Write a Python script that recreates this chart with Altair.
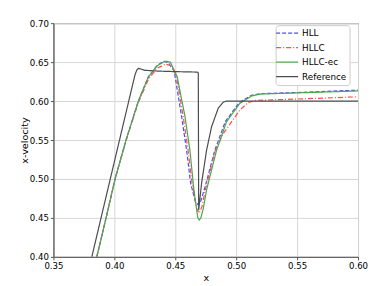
import altair as alt
import pandas as pd

# Reference (exact) solution
ref_x = [0.3815, 0.3965, 0.410, 0.415, 0.417, 0.4185, 0.4197, 0.421, 0.425, 0.435, 0.450, 0.468,
         0.4689, 0.4692, 0.4716, 0.4757, 0.4798, 0.4852, 0.4893, 0.492, 0.600]
ref_y = [0.400, 0.499, 0.588, 0.621, 0.634, 0.640, 0.642, 0.6415, 0.6395, 0.6385, 0.6378, 0.6372,
         0.636, 0.460, 0.4945, 0.537, 0.567, 0.5906, 0.5985, 0.600, 0.600]

# HLL
hll_x = [0.3856, 0.3932, 0.4006, 0.4096, 0.4197, 0.4279, 0.4348, 0.4402, 0.4445, 0.4492, 0.4552,
         0.4593, 0.4626, 0.4665, 0.4689, 0.471, 0.4745, 0.4825, 0.491, 0.5025, 0.5126, 0.520,
         0.550, 0.600]
hll_y = [0.400, 0.450, 0.500, 0.550, 0.600, 0.631, 0.645, 0.6513, 0.649, 0.638, 0.580,
         0.537, 0.4945, 0.471, 0.4667, 0.472, 0.490, 0.537, 0.5735, 0.598, 0.6075, 0.6095,
         0.611, 0.614]

# HLLC
hllc_x = [0.3856, 0.3932, 0.4006, 0.4096, 0.4197, 0.428, 0.435, 0.4421, 0.447, 0.451, 0.4565,
          0.4605, 0.4638, 0.4675, 0.4697, 0.472, 0.4745, 0.4825, 0.4893, 0.503, 0.5098, 0.5167,
          0.530, 0.550, 0.575, 0.600]
hllc_y = [0.400, 0.450, 0.500, 0.549, 0.598, 0.628, 0.642, 0.6474, 0.645, 0.632, 0.580,
          0.537, 0.4945, 0.462, 0.456, 0.465, 0.485, 0.535, 0.558, 0.5885, 0.598, 0.601,
          0.6015, 0.6026, 0.604, 0.6055]

# HLLC-ec
ec_x = [0.3856, 0.3932, 0.4006, 0.4096, 0.4197, 0.4279, 0.4348, 0.4416, 0.446, 0.4516, 0.458,
        0.462, 0.4653, 0.4685, 0.4697, 0.471, 0.473, 0.4757, 0.4839, 0.4921, 0.503, 0.5126,
        0.520, 0.550, 0.600]
ec_y = [0.400, 0.450, 0.500, 0.550, 0.600, 0.631, 0.645, 0.6513, 0.650, 0.631, 0.580,
        0.537, 0.486, 0.450, 0.4474, 0.450, 0.462, 0.486, 0.537, 0.5735, 0.597, 0.6065,
        0.609, 0.6105, 0.613]

series_names = ["HLL", "HLLC", "HLLC-ec", "Reference"]
series_colors = ["#4d4dff", "#ff4d4d", "#4da64d", "#4d4d4d"]
series_dash = [[4, 2], [5, 2, 1, 2], [1, 0], [1, 0]]

rows = []
for name, xs, ys in [("HLL", hll_x, hll_y), ("HLLC", hllc_x, hllc_y),
                     ("HLLC-ec", ec_x, ec_y), ("Reference", ref_x, ref_y)]:
    for i, (a, b) in enumerate(zip(xs, ys)):
        rows.append({"x": a, "y": b, "series": name, "i": i})
df = pd.DataFrame(rows)

x_ticks = [0.35, 0.40, 0.45, 0.50, 0.55, 0.60]
y_ticks = [0.40, 0.45, 0.50, 0.55, 0.60, 0.65, 0.70]

FONT = "DejaVu Sans"
FS = 8.6
LFS = 8.8
TFS = 9.6

chart = alt.Chart(df).mark_line(strokeWidth=1.2, clip=True).encode(
    x=alt.X("x:Q", title="x",
            scale=alt.Scale(domain=[0.35, 0.60], nice=False, zero=False),
            axis=alt.Axis(values=x_ticks, format=".2f")),
    y=alt.Y("y:Q", title="x-velocity",
            scale=alt.Scale(domain=[0.40, 0.70], nice=False, zero=False),
            axis=alt.Axis(values=y_ticks, format=".2f")),
    color=alt.Color("series:N",
                    scale=alt.Scale(domain=series_names, range=series_colors),
                    legend=alt.Legend(title=None, orient="none", legendX=222.5, legendY=2,
                                      fillColor="white", strokeColor="#cccccc",
                                      cornerRadius=3, padding=3, rowPadding=4.5,
                                      symbolType="M-2.75,0L2.75,0", symbolSize=64,
                                      symbolOffset=3.5,
                                      symbolStrokeWidth=1.3, labelOffset=10,
                                      labelFontSize=LFS, labelFont=FONT, labelColor="#000")),
    strokeDash=alt.StrokeDash("series:N",
                              scale=alt.Scale(domain=series_names, range=series_dash),
                              legend=None),
    order=alt.Order("i:Q"),
).properties(
    width=305, height=234,
    autosize=alt.AutoSizeParams(type="none"),
    padding={"left": 45.5, "top": 15, "right": 15, "bottom": 28},
).configure_view(
    stroke="#555555", strokeWidth=1
).configure_axis(
    labelFont=FONT, labelFontSize=FS, labelColor="#000", labelFlush=False,
    titleFont=FONT, titleFontSize=TFS, titleFontWeight="normal", titleColor="#000",
    gridColor="#d6d6d6", gridWidth=1,
    domainColor="#555555", tickColor="#555555", tickSize=3, labelPadding=2,
)

chart = chart.configure_axisX(titlePadding=2).configure_axisY(titlePadding=0)

chart.save("out.html", embed_options={"renderer": "svg", "actions": False})
